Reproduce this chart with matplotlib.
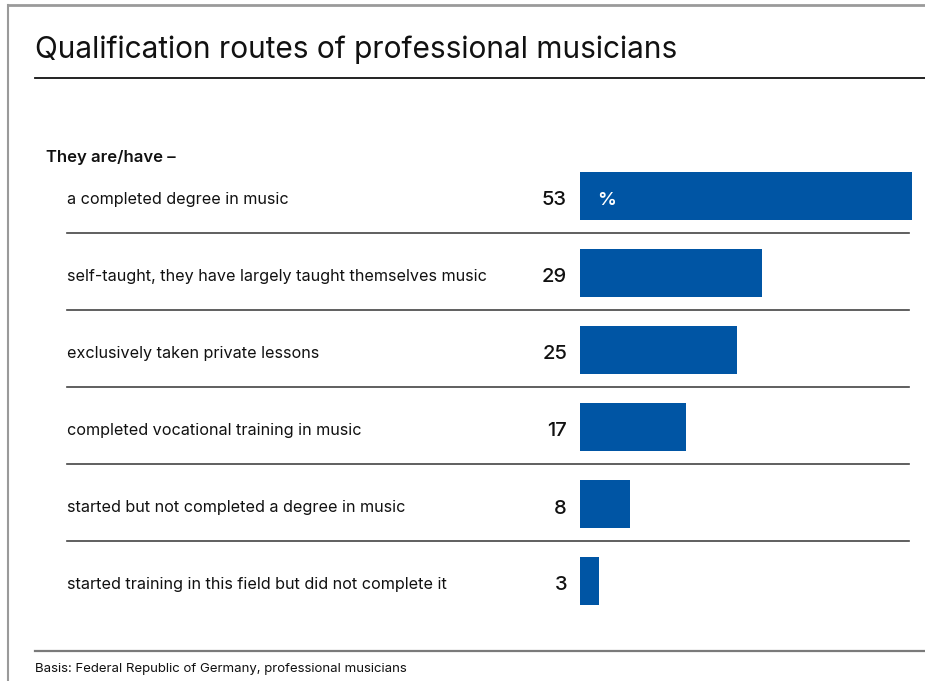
import matplotlib.pyplot as plt
from matplotlib import transforms
from matplotlib.lines import Line2D

plt.rcParams["font.family"] = ["Inter", "DejaVu Sans"]

title = "Qualification routes of professional musicians"
intro = "They are/have \u2013"
categories = [
    "a completed degree in music",
    "self-taught, they have largely taught themselves music",
    "exclusively taken private lessons",
    "completed vocational training in music",
    "started but not completed a degree in music",
    "started training in this field but did not complete it",
]
values = [53, 29, 25, 17, 8, 3]
unit = "%"
footnote = "Basis: Federal Republic of Germany, professional musicians"

BAR_COLOR = "#0055a4"
W, H = 925, 681


def fx(px):
    return px / W


def fy(px):
    return 1 - px / H


fig = plt.figure(figsize=(W / 100, H / 100), dpi=100)

# frame lines
fig.add_artist(Line2D([fx(8), 1], [fy(4.5), fy(4.5)], color="#9a9a9a", lw=2))
fig.add_artist(Line2D([fx(8), fx(8)], [fy(4.5), 0], color="#9a9a9a", lw=1.5))

fig.text(fx(35), fy(58), title, fontsize=21.5, va="baseline", ha="left",
         color="#111111")
fig.add_artist(Line2D([fx(35), 1], [fy(78), fy(78)], color="#111111", lw=1.3))

fig.text(fx(46), fy(162), intro, fontsize=12, fontweight="semibold",
         va="baseline", ha="left", color="#111111")

# bar axes: value 0 at x=580px, 53 at x=912px; rows 77px apart
n = len(values)
row_h = 77
top = 196 - row_h / 2
ax = fig.add_axes([fx(580), fy(top + n * row_h), fx(912) - fx(580), n * row_h / H])
ax.set_xlim(0, max(values))
ax.set_ylim(n - 0.5, -0.5)
ax.axis("off")

ypos = list(range(n))
ax.barh(ypos, values, height=48 / row_h, color=BAR_COLOR, left=0)

lab_tr = transforms.blended_transform_factory(fig.transFigure, ax.transData)
lab_off = 8 / row_h
val_off = 9.5 / row_h
for y, cat, v in zip(ypos, categories, values):
    ax.text(fx(67), y + lab_off, cat, transform=lab_tr, fontsize=11.65,
            va="baseline", ha="left", color="#111111")
    ax.text(fx(567), y + val_off, str(v), transform=lab_tr, fontsize=14.5,
            fontweight="medium", va="baseline", ha="right", color="#111111")

ax.text(fx(597), 0 + val_off * 0.9, unit, transform=lab_tr, fontsize=13.5,
        fontweight="semibold", va="baseline", ha="left", color="white")

# separators between rows
x0 = (67 - 580) / (912 - 580)
x1 = (909 - 580) / (912 - 580)
for i in range(n - 1):
    ax.axhline(i + 0.48, xmin=x0, xmax=x1, color="#444444", lw=1.2,
               clip_on=False)

fig.add_artist(Line2D([fx(35), 1], [fy(651), fy(651)], color="#7a7a7a", lw=1.6))
fig.text(fx(35), fy(672), footnote, fontsize=9.5, va="baseline", ha="left",
         color="#111111")

fig.savefig("out.png", dpi=100)
